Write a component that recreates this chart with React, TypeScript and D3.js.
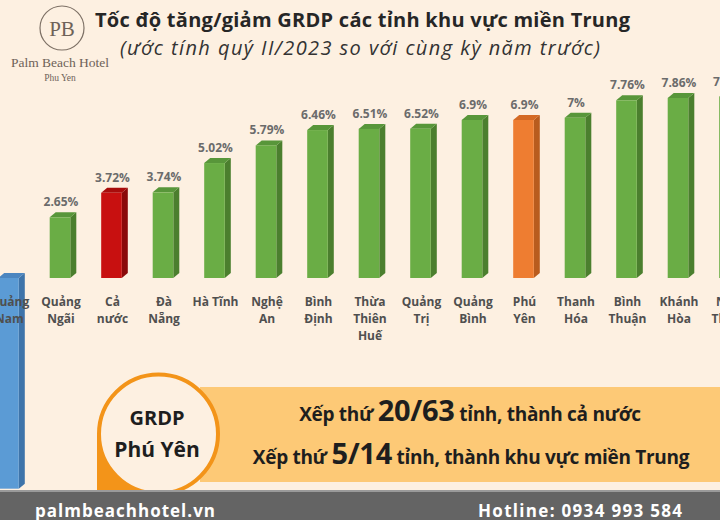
import React from "react";
import * as d3 from "d3";

const categories = [
  "Quảng Nam", "Quảng Ngãi", "Cả nước", "Đà Nẵng", "Hà Tĩnh", "Nghệ An", "Bình Định",
  "Thừa Thiên Huế", "Quảng Trị", "Quảng Bình", "Phú Yên", "Thanh Hóa", "Bình Thuận",
  "Khánh Hòa", "Ninh Thuận",
];
const labelLines = [
  ["Quảng", "Nam"], ["Quảng", "Ngãi"], ["Cả", "nước"], ["Đà", "Nẵng"], ["Hà Tĩnh"],
  ["Nghệ", "An"], ["Bình", "Định"], ["Thừa", "Thiên", "Huế"], ["Quảng", "Trị"],
  ["Quảng", "Bình"], ["Phú", "Yên"], ["Thanh", "Hóa"], ["Bình", "Thuận"], ["Khánh", "Hòa"],
  ["Ninh", "Thuận"],
];
const values = [-9.2, 2.65, 3.72, 3.74, 5.02, 5.79, 6.46, 6.51, 6.52, 6.9, 6.9, 7, 7.76, 7.86, 7.92];
const valueLabels = ["", "2.65%", "3.72%", "3.74%", "5.02%", "5.79%", "6.46%", "6.51%", "6.52%", "6.9%", "6.9%", "7%", "7.76%", "7.86%", "7.92%"];
const kinds = ["neg", "prov", "nation", "prov", "prov", "prov", "prov", "prov", "prov", "prov", "focus", "prov", "prov", "prov", "prov"];

const palette: Record<string, [string, string, string]> = {
  prov: ["#6aad45", "#4b7f2e", "#58963a"],
  nation: ["#c81010", "#8a0a0a", "#a80c0c"],
  focus: ["#ee7d31", "#b95c1e", "#d46a25"],
  neg: ["#5b9bd5", "#3e74aa", "#4c86c0"],
};

export default function App() {
  const W = 720, H = 520;
  const x = d3.scaleBand<string>().domain(categories).range([-17.25, 755.25]).paddingInner(0.6).paddingOuter(0.3);
  const y = d3.scaleLinear().domain([-10, 8]).range([278 + 229, 278 - 183.2]);
  const base = y(0);
  const w = x.bandwidth();
  const dx = 6, dy = 5;
  const labelFont = "'Open Sans', sans-serif";

  return (
    <svg width={W} height={H} style={{ position: "absolute", left: 0, top: 0 }} xmlns="http://www.w3.org/2000/svg">
      <rect x={0} y={0} width={W} height={H} fill="#fdf0e1" />
      {/* logo */}
      <g fill="#6e6258" fontFamily="'Liberation Serif', serif">
        <circle cx={62} cy={28} r={22} fill="none" stroke="#7d7065" strokeWidth={1.2} />
        <text x={62} y={36} textAnchor="middle" fontSize={21}>PB</text>
        <text x={60} y={67} textAnchor="middle" fontSize={13.5}>Palm Beach Hotel</text>
        <text x={60} y={81} textAnchor="middle" fontSize={9.5}>Phu Yen</text>
      </g>
      {/* title */}
      <text x={95} y={27} fontFamily={labelFont} fontWeight={700} fontSize={20} fill="#262626" textLength={535} lengthAdjust="spacing">
        Tốc độ tăng/giảm GRDP các tỉnh khu vực miền Trung
      </text>
      <text x={120} y={55} fontFamily={labelFont} fontStyle="italic" fontSize={20} fill="#333" textLength={480} lengthAdjust="spacing">
        (ước tính quý II/2023 so với cùng kỳ năm trước)
      </text>
      {/* bars */}
      {categories.map((c, i) => {
        const v = values[i];
        const x0 = x(c)!;
        const yv = y(v);
        const top = Math.min(yv, base);
        const bot = Math.max(yv, base);
        const [front, side, topc] = palette[kinds[i]];
        return (
          <g key={c}>
            <polygon points={`${x0 + w},${top} ${x0 + w + dx},${top - dy} ${x0 + w + dx},${bot - dy} ${x0 + w},${bot}`} fill={side} />
            <polygon points={`${x0},${top} ${x0 + dx},${top - dy} ${x0 + w + dx},${top - dy} ${x0 + w},${top}`} fill={topc} />
            <rect x={x0} y={top} width={w} height={bot - top} fill={front} />
          </g>
        );
      })}
      {categories.map((c, i) => {
        const cx = x(c)! + w / 2 + 1;
        return (
          <g key={"l" + c} fontFamily={labelFont} fontWeight={700} textAnchor="middle">
            {valueLabels[i] && (
              <text x={cx} y={y(values[i]) - 11} fontSize={12} fill="#6b6b6b">{valueLabels[i]}</text>
            )}
            {labelLines[i].map((t, j) => (
              <text key={j} x={cx} y={306 + j * 17} fontSize={12} fill="#4f4f4f">{t}</text>
            ))}
          </g>
        );
      })}
      {/* info band */}
      <rect x={200} y={387} width={520} height={95} fill="#fdc976" />
      <path d="M 97 434 L 97 490 L 140 490 Z" fill="#f39419" />
      <circle cx={158.5} cy={434} r={59.5} fill="#fdf0e1" stroke="#f39419" strokeWidth={4} />
      <g fontFamily={labelFont} fontWeight={700} fill="#1e1e1e" textAnchor="middle">
        <text x={157} y={425} fontSize={20}>GRDP</text>
        <text x={157} y={457} fontSize={21}>Phú Yên</text>
      </g>
      <g fontFamily={labelFont} fontWeight={700} fill="#1e1e1e" textAnchor="middle">
        <text x={470} y={421} fontSize={19} letterSpacing={-0.3}>
          Xếp thứ <tspan fontSize={29}>20/63</tspan> tỉnh, thành cả nước
        </text>
        <text x={471} y={464} fontSize={19} letterSpacing={-0.3}>
          Xếp thứ <tspan fontSize={29}>5/14</tspan> tỉnh, thành khu vực miền Trung
        </text>
      </g>
      {/* footer */}
      <rect x={0} y={490} width={W} height={30} fill="#646464" />
      <rect x={0} y={490} width={W} height={2} fill="#9a9a9a" />
      <g fontFamily={labelFont} fontWeight={700} fill="#ffffff" fontSize={17}>
        <text x={35} y={517} textLength={180} lengthAdjust="spacing">palmbeachhotel.vn</text>
        <text x={478} y={517} textLength={204} lengthAdjust="spacing">Hotline: 0934 993 584</text>
      </g>
    </svg>
  );
}
